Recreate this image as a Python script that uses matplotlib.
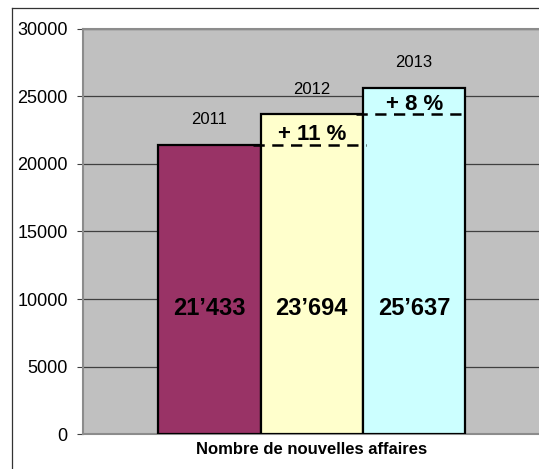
import matplotlib.pyplot as plt
from matplotlib.lines import Line2D

plt.rcParams['font.family'] = ['Liberation Sans', 'DejaVu Sans']

# data
years = ['2011', '2012', '2013']
values = [21433, 23694, 25637]
value_labels = ['21\u2019433', '23\u2019694', '25\u2019637']
growth_labels = ['', '+ 11 %', '+ 8 %']
bar_colors = ['#993366', '#FFFFCC', '#CCFFFF']
yticks = [0, 5000, 10000, 15000, 20000, 25000, 30000]

fig = plt.figure(figsize=(5.39, 4.69), dpi=100)
ax = fig.add_axes([83/539, 35/469, 1.003 - 83/539, (434-29)/469])
ax.set_facecolor('#C0C0C0')

x = list(range(len(values)))
ax.bar(x, values, width=1.0, color=bar_colors, edgecolor='black', linewidth=1.6, zorder=3)

for i in x:
    ax.text(i, values[i] + 1850, years[i], ha='center', va='center', fontsize=12, zorder=5)
    ax.text(i, 9300, value_labels[i], ha='center', va='center', fontsize=17,
            fontweight='bold', zorder=5)
    if i > 0:
        prev = values[i-1]
        ax.plot([i - 0.57, i + 0.53], [prev, prev], color='black', lw=1.8,
                dashes=(4.5, 3), zorder=4)
        ax.text(i, prev + 330, growth_labels[i], ha='center', va='baseline', fontsize=16,
                fontweight='bold', zorder=5)

ax.set_xlim(-1.235, 3.235)
ax.set_ylim(0, 30000)
ax.set_yticks(yticks)
ax.set_yticklabels([str(t) for t in yticks], fontsize=13)
ax.set_xticks([])
ax.yaxis.grid(True, color='#404040', linewidth=0.9)
ax.set_axisbelow(True)
ax.tick_params(axis='y', direction='out', length=4, width=0.8, color='#404040', pad=7)

for s in ['left', 'top', 'bottom']:
    ax.spines[s].set_color('#8C8C8C')
    ax.spines[s].set_linewidth(1.5)
ax.spines['right'].set_visible(False)

ax.set_xlabel('Nombre de nouvelles affaires', fontsize=12, fontweight='bold', labelpad=6)

# outer frame of the chart
fx = 12/539
fy = 1 - 8/469
fig.add_artist(Line2D([fx, fx], [0, fy], color='#333333', lw=0.9))
fig.add_artist(Line2D([fx, 1], [fy, fy], color='#333333', lw=0.9))

fig.savefig('out.png', dpi=100)
